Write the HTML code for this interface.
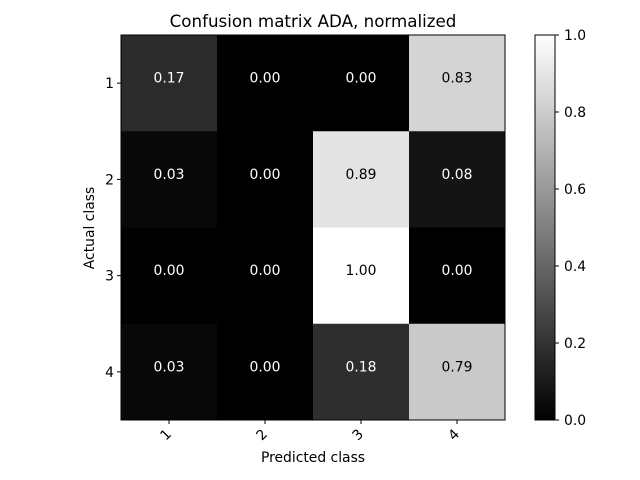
<!DOCTYPE html>
<html><head><meta charset="utf-8"><style>
body{margin:0;background:#fff;}
svg{display:block;font-family:"DejaVu Sans","Liberation Sans",sans-serif;}
</style></head><body>
<svg id="chart" width="640" height="480">
<rect width="640" height="480" fill="#fff"/>
<text x="313" y="27" font-size="16.7" text-anchor="middle">Confusion matrix ADA, normalized</text>
<text x="313" y="462" font-size="13.9" text-anchor="middle">Predicted class</text>
<text x="0" y="0" font-size="13.9" text-anchor="middle" transform="translate(94,228) rotate(-90)">Actual class</text>
<g id="cells"></g>
<g id="colorbar"></g>
</svg>
<script>
const xLabels = ["1","2","3","4"];
const yLabels = ["1","2","3","4"];
const values = [
  [0.17,0.00,0.00,0.83],
  [0.03,0.00,0.89,0.08],
  [0.00,0.00,1.00,0.00],
  [0.03,0.00,0.18,0.79]
];
const cbTicks = [0.0,0.2,0.4,0.6,0.8,1.0];

const NS="http://www.w3.org/2000/svg";
const L=121,T=35,R=505,B=420;
const n=xLabels.length;
const cw=(R-L)/n, ch=(B-T)/yLabels.length;
const xPos=i=>L+i*cw, yPos=j=>T+j*ch;
const g=document.getElementById('cells');
function mk(tag,attrs,parent){const e=document.createElementNS(NS,tag);for(const k in attrs)e.setAttribute(k,attrs[k]);parent.appendChild(e);return e;}
function gray(v){const c=Math.round(Math.max(0,Math.min(1,v))*255);return `rgb(${c},${c},${c})`;}
values.forEach((row,j)=>row.forEach((v,i)=>{
  const r=mk('rect',{x:xPos(i),y:yPos(j),width:cw+0.5,height:ch+0.5,fill:gray(v)},g);
  
  
  const t=mk('text',{x:xPos(i)+cw/2,y:yPos(j)+ch/2-0.5,'font-size':13.9,'text-anchor':'middle',fill:v>0.5?'#000':'#fff'},g);
  t.textContent=v.toFixed(2);
  
  
}));
mk('rect',{x:L,y:T,width:R-L,height:B-T,fill:'none',stroke:'#000','stroke-width':1},g);
xLabels.forEach((lab,i)=>{
  const x=xPos(i)+cw/2;
  mk('line',{x1:x,x2:x,y1:B,y2:B+4,stroke:'#000'},g);
  const t=mk('text',{'font-size':13.9,'text-anchor':'middle',transform:`translate(${x},${B+18}) rotate(-45)`},g);
  t.textContent=lab;
  
  
});
yLabels.forEach((lab,j)=>{
  const y=yPos(j)+ch/2;
  mk('line',{x1:L-4,x2:L,y1:y,y2:y,stroke:'#000'},g);
  const t=mk('text',{x:L-7,y:y+5,'font-size':13.9,'text-anchor':'end'},g);
  t.textContent=lab;
  
  
});
const cb=document.getElementById('colorbar');
const CL=535,CR=555;
const defs=mk('defs',{},cb);
const lg=mk('linearGradient',{id:'cbg',x1:0,y1:1,x2:0,y2:0},defs);
mk('stop',{offset:0,'stop-color':'#000'},lg);
mk('stop',{offset:1,'stop-color':'#fff'},lg);
const cr=mk('rect',{x:CL,y:T,width:CR-CL,height:B-T,fill:'url(#cbg)',stroke:'#000','stroke-width':1},cb);


const cy=v=>B-v*(B-T);
cbTicks.forEach(v=>{
  mk('line',{x1:CR,x2:CR+4,y1:cy(v),y2:cy(v),stroke:'#000'},cb);
  const t=mk('text',{x:CR+9,y:cy(v)+5,'font-size':13.9},cb);
  t.textContent=v.toFixed(1);
  
  
});
</script>
</body></html>
